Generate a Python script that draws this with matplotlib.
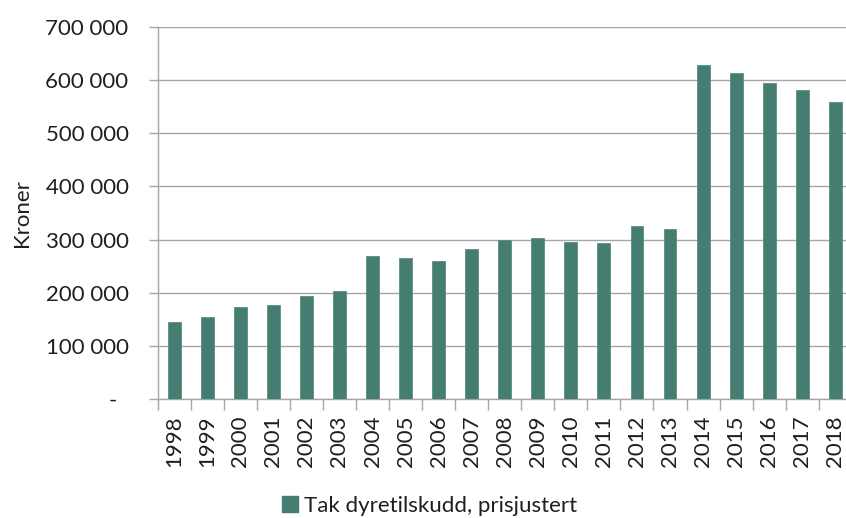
import matplotlib
matplotlib.use("Agg")
import matplotlib.pyplot as plt
from matplotlib.patches import Patch
from matplotlib.ticker import FuncFormatter, MultipleLocator

years = ["1998", "1999", "2000", "2001", "2002", "2003", "2004", "2005", "2006",
         "2007", "2008", "2009", "2010", "2011", "2012", "2013", "2014", "2015",
         "2016", "2017", "2018"]
values = [144000, 155000, 174000, 176000, 194000, 203000, 270000, 265000, 260000,
          283000, 300000, 303000, 296000, 294000, 326000, 319000, 628000, 614000,
          594000, 582000, 559000]
series_label = "Tak dyretilskudd, prisjustert"
y_label = "Kroner"

BAR = "#467D71"
GRID = "#A6A6A6"
TXT = "#1F1F1F"
FONT = ["Lato", "DejaVu Sans"]
plt.rcParams["font.family"] = FONT
FS = 16

fig = plt.figure(figsize=(8.46, 5.18), dpi=100)
ax = fig.add_axes([157.7 / 846, 1 - 399 / 518, (851.8 - 157.7) / 846, (399 - 27) / 518])

x = list(range(len(years)))
ax.bar(x, values, width=0.39, color=BAR, edgecolor="#5A8E83", linewidth=0.6, zorder=3)

ax.set_xlim(-0.5, len(years) - 0.5)
ax.set_ylim(0, 700000)
ax.yaxis.set_major_locator(MultipleLocator(100000))


def fmt(v, pos):
    if abs(v) < 1:
        return "-  "
    return f"{int(round(v)):,}".replace(",", " ")


ax.yaxis.set_major_formatter(FuncFormatter(fmt))
ax.set_xticks(x)
ax.set_xticklabels(years, rotation=90, fontsize=FS, color=TXT)
ax.set_xticks([i + 0.5 for i in x[:-1]] + [-0.5], minor=True)
ax.tick_params(axis="x", which="major", length=0, pad=12)
ax.tick_params(axis="x", which="minor", length=8, width=1, color=GRID, direction="out")
ax.tick_params(axis="y", length=6.5, width=1, color=GRID, direction="out", labelsize=FS,
               labelcolor=TXT, pad=14.5)

ax.grid(axis="y", color=GRID, linewidth=1, zorder=0)
for s in ["top", "right"]:
    ax.spines[s].set_visible(False)
for s in ["left", "bottom"]:
    ax.spines[s].set_color(GRID)
    ax.spines[s].set_linewidth(1)

fig.text(22 / 846, 1 - 213 / 518, y_label, rotation=90, ha="center", va="center",
         fontsize=FS, color=TXT)

handle = Patch(facecolor=BAR, edgecolor=BAR)
fig.legend([handle], [series_label], loc="center", bbox_to_anchor=(429.5 / 846, 1 - 506 / 518),
           frameon=False, fontsize=FS, handlelength=0.75, handleheight=0.7,
           handletextpad=0.25, labelcolor=TXT, borderpad=0, borderaxespad=0)

fig.savefig("out.png", dpi=100)
